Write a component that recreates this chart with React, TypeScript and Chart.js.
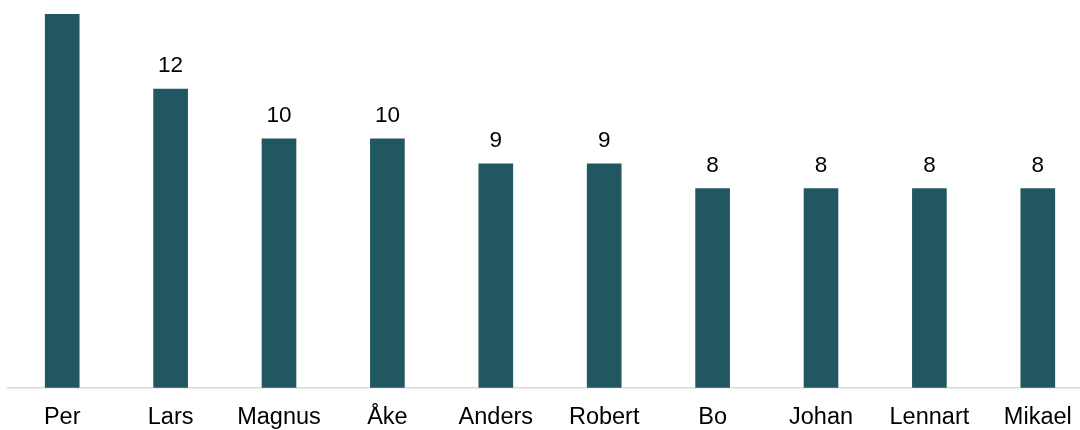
import React, { useEffect, useRef } from "react";
import { Chart, registerables } from "chart.js";

Chart.register(...registerables);

const categories = ["Per", "Lars", "Magnus", "Åke", "Anders", "Robert", "Bo", "Johan", "Lennart", "Mikael"];
const values = [15, 12, 10, 10, 9, 9, 8, 8, 8, 8];

const FONT = "'Liberation Sans', Arial, sans-serif";

const valueLabels = {
  id: "valueLabels",
  afterDatasetsDraw(chart: any) {
    const ctx = chart.ctx;
    const meta = chart.getDatasetMeta(0);
    ctx.save();
    ctx.font = `22.5px ${FONT}`;
    ctx.fillStyle = "#000";
    ctx.textAlign = "center";
    ctx.textBaseline = "alphabetic";
    meta.data.forEach((bar: any, i: number) => {
      const v = chart.data.datasets[0].data[i];
      ctx.fillText(String(v), bar.x, bar.y - 17);
    });
    ctx.restore();
  },
};

export default function App() {
  const ref = useRef<HTMLCanvasElement>(null);
  useEffect(() => {
    if (!ref.current) return;
    const chart = new Chart(ref.current, {
      type: "bar",
      data: {
        labels: categories,
        datasets: [
          {
            data: values,
            backgroundColor: "#215760",
            borderWidth: 0,
            barThickness: 34,
          },
        ],
      },
      options: {
        animation: false,
        responsive: false,
        maintainAspectRatio: false,
        layout: { padding: { left: 8, right: 8, top: 2, bottom: 0 } },
        plugins: { legend: { display: false }, tooltip: { enabled: false } },
        scales: {
          x: {
            grid: { display: false },
            border: { display: true, color: "#d9d9d9", width: 1.5 },
            ticks: { color: "#000", font: { size: 23.5, family: FONT }, padding: 8, maxRotation: 0, autoSkip: false },
          },
          y: {
            display: false,
            min: 0,
            max: 15.5,
          },
        },
      },
      plugins: [valueLabels],
    });
    return () => chart.destroy();
  }, []);
  return (
    <div style={{ position: "fixed", left: 0, top: 0, width: 1080, height: 430, overflow: "hidden", background: "#fff" }}>
      <canvas ref={ref} width={1100} height={440} style={{ display: "block", width: 1100, height: 440 }} />
    </div>
  );
}
